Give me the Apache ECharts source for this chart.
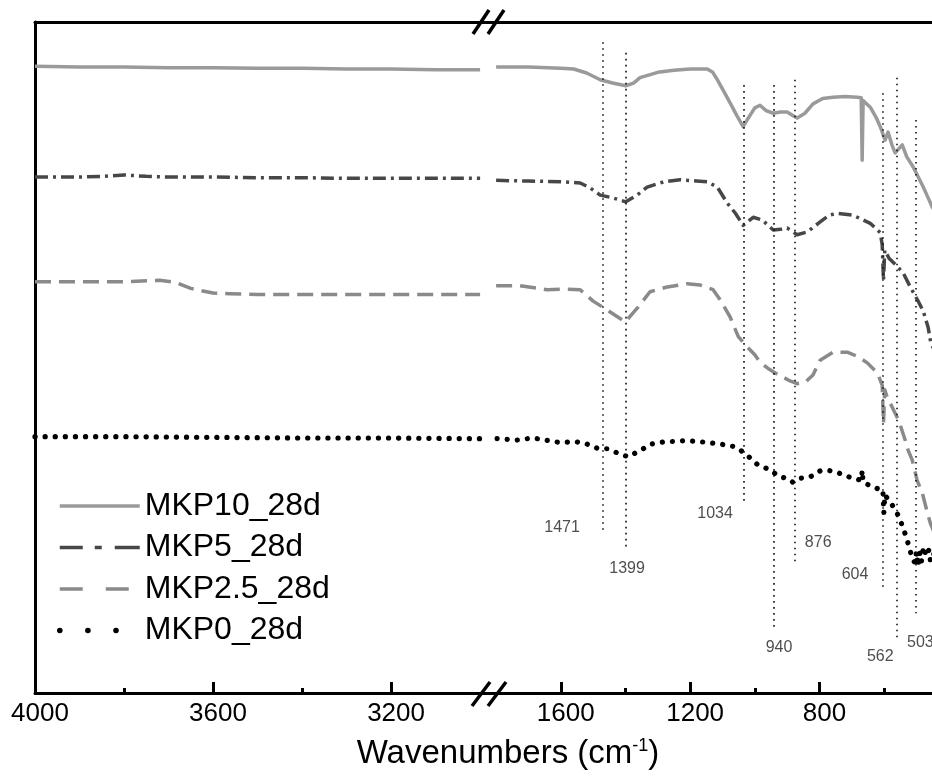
<!DOCTYPE html>
<html>
<head>
<meta charset="utf-8">
<script src="https://cdn.jsdelivr.net/npm/echarts@6/dist/echarts.min.js"></script>
<style>html,body{margin:0;padding:0;background:#fff}#c{width:932px;height:778px}</style>
</head>
<body>
<div id="c"></div>
<script>
// ---------- data ----------
const seriesNames = ['MKP10_28d', 'MKP5_28d', 'MKP2.5_28d', 'MKP0_28d'];
const leftTickLabels = [4000, 3600, 3200];
const leftMinorTicks = [3800, 3400];
const rightTickLabels = [1600, 1200, 800];
const rightMinorTicks = [1400, 1000, 600];

const mkp10Left = [[4000,93.4],[3900,93.3],[3800,93.3],[3700,93.2],[3600,93.2],[3500,93.1],[3400,93.1],[3300,93.0],[3200,93.0],[3100,92.9],[3000,92.9]];
const mkp10Right = [[1800,93.3],[1700,93.3],[1600,93.1],[1560,93.0],[1520,92.4],[1478,91.4],[1440,90.9],[1399,90.5],[1375,90.9],[1355,91.7],[1300,92.5],[1250,92.8],[1200,93.0],[1147,93.0],[1130,92.5],[1116,91.4],[1095,89.6],[1076,87.9],[1055,86.0],[1036,84.4],[1020,85.7],[1000,87.2],[984,87.6],[965,86.8],[943,86.4],[920,86.6],[900,86.6],[880,86.0],[869,85.7],[845,86.4],[820,87.8],[790,88.6],[758,88.8],[720,88.9],[684,88.8],[671,88.7],[668,79.4],[665,88.3],[643,87.3],[625,85.8],[612,84.4],[597,82.4],[588,83.6],[576,81.7],[566,80.5],[544,81.7],[530,79.9],[510,78.4],[479,75.4],[465,73.9],[451,72.4],[430,70.5],[400,69.0]];

const mkp5Left = [[4000,76.9],[3900,76.9],[3850,77.0],[3800,77.2],[3750,77.0],[3700,76.9],[3600,76.9],[3500,76.8],[3400,76.8],[3300,76.7],[3200,76.7],[3100,76.7],[3000,76.7]];
const mkp5Right = [[1800,76.4],[1700,76.3],[1600,76.2],[1540,76.0],[1510,75.3],[1478,74.2],[1440,73.8],[1399,73.2],[1364,74.2],[1333,75.4],[1280,76.2],[1231,76.5],[1180,76.3],[1147,76.2],[1116,75.4],[1085,73.0],[1060,71.5],[1036,69.7],[1005,70.9],[977,70.5],[943,69.0],[920,69.1],[900,69.3],[869,68.3],[838,68.7],[798,70.2],[770,71.2],[745,71.5],[696,71.2],[643,70.0],[612,68.6],[606,66.8],[602,61.5],[598,66.0],[585,64.8],[566,63.9],[541,62.6],[519,60.5],[497,58.6],[479,56.9],[464,54.5],[455,52.0],[430,50.0],[400,48.0]];

const mkp25Left = [[4000,61.3],[3900,61.3],[3800,61.3],[3720,61.5],[3685,61.2],[3650,60.3],[3629,60.0],[3600,59.6],[3562,59.5],[3500,59.4],[3400,59.4],[3300,59.4],[3200,59.4],[3100,59.4],[3000,59.4]];
const mkp25Right = [[1800,60.7],[1726,60.7],[1642,60.1],[1593,60.2],[1540,60.1],[1500,58.4],[1457,57.1],[1401,55.3],[1361,57.5],[1324,59.8],[1271,60.5],[1209,61.0],[1169,60.8],[1129,60.1],[1107,58.6],[1076,56.0],[1051,53.1],[1024,51.6],[1000,50.4],[984,49.3],[960,48.4],[937,47.7],[910,47.0],[891,46.5],[869,46.1],[844,46.3],[820,47.4],[798,49.6],[758,50.8],[714,50.8],[680,50.1],[652,49.2],[621,47.7],[606,45.9],[602,40.2],[598,45.2],[590,44.0],[575,42.6],[560,41.1],[550,39.9],[535,37.7],[526,36.2],[513,34.7],[498,31.7],[482,29.8],[466,26.8],[457,25.3],[430,22.1],[400,19.8]];

const mkp0Left = [[4000,38.2],[3800,38.2],[3600,38.1],[3400,38.0],[3200,38.0],[3000,37.9]];
const mkp0Right = [[1797,37.9],[1735,37.7],[1686,38.0],[1611,37.4],[1549,37.4],[1519,37.1],[1488,36.5],[1457,36.4],[1426,35.8],[1392,35.2],[1352,36.2],[1321,37.1],[1284,37.4],[1212,37.6],[1160,37.4],[1107,37.1],[1061,36.7],[1036,35.9],[1014,35.0],[993,34.1],[965,33.5],[943,32.9],[922,32.2],[900,32.0],[882,31.4],[860,32.0],[829,32.2],[798,33.1],[776,33.2],[745,32.9],[727,32.5],[696,32.0],[670,31.7],[668,33.2],[665,31.4],[634,30.7],[612,30.3],[604,30.3],[601,26.8],[598,29.5],[581,28.5],[557,26.5],[541,24.6],[529,22.8],[513,20.1],[505,19.4],[500,21.0],[495,18.9],[490,20.9],[485,19.5],[478,21.8],[470,20.4],[462,21.3],[457,19.8],[450,20.9],[430,19.8],[400,19.1]];

const peakWavenumbers = [1471, 1399, 1034, 940, 876, 604, 562, 503];
const peakLineTop =    [97.0, 95.4, 90.6, 90.6, 91.4, 89.4, 91.7, 85.4];
const peakLineBottom = [23.8, 21.8, 28.3,  9.8, 19.4, 15.8,  8.3, 11.9];

// ---------- layout (not data) ----------
const peakLabelAnchor = [[1596,24.7],[1395,18.6],[1123,26.7],[925,6.7],[804,22.4],[690,17.6],[612,5.5],[488,7.5]];

const FONT = 'Liberation Sans, Arial, Helvetica, sans-serif';
const styles = [
  { color: '#9a9a9a', width: 3.5, type: 'solid', cap: 'butt' },
  { color: '#474747', width: 3.5, type: [13, 5, 3, 5], cap: 'butt' },
  { color: '#8a8a8a', width: 3.5, type: [16, 8], cap: 'butt' },
  { color: '#000000', width: 5.2, type: [0.1, 10], cap: 'round' }
];
const legendLine = [
  { type: 'solid', width: 3.5, color: '#9a9a9a', cap: 'butt' },
  { type: [23, 12, 7, 13, 30], width: 3.5, color: '#474747', cap: 'butt' },
  { type: [23, 23], width: 3.5, color: '#8a8a8a', cap: 'butt' },
  { type: [0.1, 28], width: 5.5, color: '#000', cap: 'round' }
];

const lefts = [mkp10Left, mkp5Left, mkp25Left, mkp0Left];
const rights = [mkp10Right, mkp5Right, mkp25Right, mkp0Right];

const series = [];
seriesNames.forEach((name, i) => {
  const ls = styles[i];
  const base = {
    type: 'line', name, symbol: 'none', smooth: false, animation: false,
    lineStyle: { color: ls.color, width: ls.width, type: ls.type, cap: ls.cap, join: 'round' },
    itemStyle: { color: ls.color }, z: 3
  };
  series.push(Object.assign({}, base, { xAxisIndex: 0, yAxisIndex: 0, data: lefts[i] }));
  series.push(Object.assign({}, base, { xAxisIndex: 3, yAxisIndex: 1, data: rights[i] }));
});

series.push({
  type: 'scatter', name: 'peaks', xAxisIndex: 3, yAxisIndex: 1, symbolSize: 0, animation: false, silent: true,
  data: peakWavenumbers.map((p, i) => ({ name: String(p), value: peakLabelAnchor[i] })),
  label: { show: true, position: 'inside', formatter: '{b}', color: '#222', fontSize: 16, fontFamily: FONT },
  markLine: {
    silent: true, animation: false, symbol: ['none', 'none'],
    label: { show: false },
    lineStyle: { color: '#111', width: 1.6, type: [1.6, 4.4] },
    data: peakWavenumbers.map((p, i) => [{ coord: [p, peakLineTop[i]] }, { coord: [p, peakLineBottom[i]] }])
  },
  z: 2
});

const axisLineStyle = { show: true, onZero: false, lineStyle: { color: '#000', width: 3 } };
const labelStyle = { color: '#000', fontSize: 26, fontFamily: FONT, margin: 8, padding: [0, 0, 0, 10], formatter: v => String(v) };

const option = {
  backgroundColor: '#fff',
  animation: false,
  title: {
    text: '{a|Wavenumbers (cm}{b|-1}{a|)}',
    left: 503, top: 732, textAlign: 'center',
    textStyle: { fontWeight: 'normal', rich: {
      a: { fontSize: 33, fontFamily: FONT, color: '#000', fontWeight: 'normal' },
      b: { fontSize: 18, fontFamily: FONT, color: '#000', fontWeight: 'normal', padding: [0, 0, 16, 0] }
    } }
  },
  legend: {
    orient: 'vertical', left: 57, top: 490, padding: 0,
    itemWidth: 80, itemHeight: 14, itemGap: 9.5,
    itemStyle: { opacity: 0, borderWidth: 0 },
    textStyle: { fontSize: 32, fontFamily: FONT, color: '#000', lineHeight: 31 },
    data: seriesNames.map((n, i) => ({ name: n, lineStyle: legendLine[i], itemStyle: { opacity: 0, borderWidth: 0 } }))
  },
  grid: [
    { left: 35, top: 22, width: 454, height: 671 },
    { left: 489, top: 22, width: 443, height: 671 }
  ],
  xAxis: [
    { type: 'value', gridIndex: 0, min: 2980, max: 4000, inverse: true, position: 'bottom',
      axisLine: axisLineStyle,
      axisTick: { show: true, inside: true, length: 11, customValues: leftTickLabels, lineStyle: { color: '#000', width: 3 } },
      axisLabel: Object.assign({ customValues: leftTickLabels }, labelStyle), splitLine: { show: false } },
    { type: 'value', gridIndex: 0, min: 2980, max: 4000, inverse: true, position: 'top',
      axisLine: axisLineStyle, axisTick: { show: false }, axisLabel: { show: false }, splitLine: { show: false } },
    { type: 'value', gridIndex: 0, min: 2980, max: 4000, inverse: true, position: 'bottom',
      axisLine: { show: false, onZero: false },
      axisTick: { show: true, inside: true, length: 5, customValues: leftMinorTicks, lineStyle: { color: '#000', width: 3 } },
      axisLabel: { show: false }, splitLine: { show: false } },
    { type: 'value', gridIndex: 1, min: 452, max: 1822, inverse: true, position: 'bottom',
      axisLine: axisLineStyle,
      axisTick: { show: true, inside: true, length: 11, customValues: rightTickLabels, lineStyle: { color: '#000', width: 3 } },
      axisLabel: Object.assign({ customValues: rightTickLabels }, labelStyle), splitLine: { show: false } },
    { type: 'value', gridIndex: 1, min: 452, max: 1822, inverse: true, position: 'top',
      axisLine: axisLineStyle, axisTick: { show: false }, axisLabel: { show: false }, splitLine: { show: false } },
    { type: 'value', gridIndex: 1, min: 452, max: 1822, inverse: true, position: 'bottom',
      axisLine: { show: false, onZero: false },
      axisTick: { show: true, inside: true, length: 5, customValues: rightMinorTicks, lineStyle: { color: '#000', width: 3 } },
      axisLabel: { show: false }, splitLine: { show: false } }
  ],
  yAxis: [
    { type: 'value', gridIndex: 0, min: 0, max: 100, position: 'left',
      axisLine: axisLineStyle, axisTick: { show: false }, axisLabel: { show: false }, splitLine: { show: false } },
    { type: 'value', gridIndex: 1, min: 0, max: 100, show: false }
  ],
  graphic: [
    { type: 'line', shape: { x1: 472, y1: 706, x2: 490, y2: 682 }, style: { stroke: '#000', lineWidth: 3.5 }, z: 10 },
    { type: 'line', shape: { x1: 488, y1: 706, x2: 506, y2: 682 }, style: { stroke: '#000', lineWidth: 3.5 }, z: 10 },
    { type: 'line', shape: { x1: 473, y1: 34, x2: 489, y2: 10 }, style: { stroke: '#000', lineWidth: 3.5 }, z: 10 },
    { type: 'line', shape: { x1: 488, y1: 34, x2: 504, y2: 10 }, style: { stroke: '#000', lineWidth: 3.5 }, z: 10 }
  ],
  series
};

const chart = echarts.init(document.getElementById('c'), null, { renderer: 'canvas' });
chart.setOption(option);
</script>
</body>
</html>
